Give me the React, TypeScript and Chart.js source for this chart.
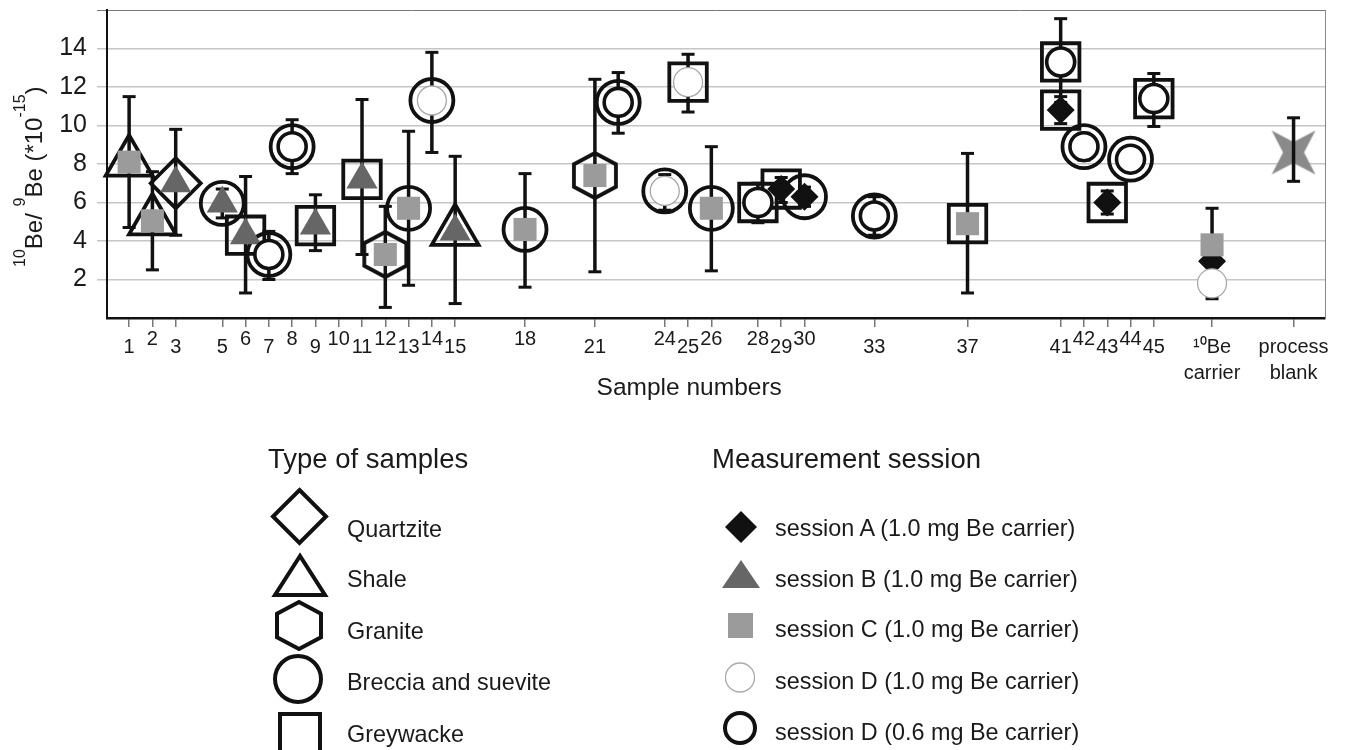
import React, { useEffect, useRef } from 'react';
import { Chart, registerables } from 'chart.js';

Chart.register(...registerables);

const FONT = "'Liberation Sans', Arial, Helvetica, sans-serif";
const INK = '#1a1a1a';

// ---------------- data ----------------
const X_TICKS = [1, 2, 3, 5, 6, 7, 8, 9, 10, 11, 12, 13, 14, 15, 18, 21, 24, 25, 26, 28, 29, 30, 33, 37, 41, 42, 43, 44, 45, 47.5, 51];
const X_TICK_LABELS: (string | string[])[] = [
  '1', '2', '3', '5', '6', '7', '8', '9', '10', '11', '12', '13', '14', '15', '18', '21',
  '24', '25', '26', '28', '29', '30', '33', '37', '41', '42', '43', '44', '45',
  ['\u00b9\u2070Be', 'carrier'], ['process', 'blank'],
];
const RAISED_TICKS = [2, 6, 8, 10, 12, 14, 18, 24, 26, 28, 30, 42, 44];
const Y_TICKS = [2, 4, 6, 8, 10, 12, 14];

const SAMPLE_X = [1, 2, 3, 5, 6, 7, 8, 9, 11, 12, 13, 14, 15, 18, 21, 22, 24, 25, 26, 28, 29, 30, 33, 37, 41, 41, 42, 43, 44, 45];
const SAMPLE_VALUE = [8.1, 5.05, 7.0, 5.95, 4.3, 3.3, 8.9, 4.8, 7.2, 3.3, 5.7, 11.3, 4.5, 4.6, 7.4, 11.2, 6.6, 12.25, 5.7, 6.0, 6.7, 6.3, 5.3, 4.9, 13.3, 10.8, 8.9, 6.0, 8.25, 11.4];
const SAMPLE_LOW = [4.7, 2.5, 4.3, 5.2, 1.3, 2.0, 7.5, 3.5, 3.3, 0.55, 1.7, 8.6, 0.75, 1.6, 2.4, 9.6, 5.6, 10.7, 2.45, 4.95, 6.0, 5.8, 4.3, 1.3, 11.2, 10.1, 8.2, 5.4, 7.6, 9.95];
const SAMPLE_HIGH = [11.5, 7.6, 9.8, 6.7, 7.35, 4.5, 10.3, 6.4, 11.35, 5.8, 9.7, 13.8, 8.4, 7.5, 12.4, 12.75, 7.45, 13.7, 8.9, 7.0, 7.3, 6.8, 6.3, 8.55, 15.55, 11.5, 9.6, 6.6, 8.9, 12.7];
const SAMPLE_TYPE = ['Shale', 'Shale', 'Quartzite', 'Breccia', 'Greywacke', 'Breccia', 'Breccia', 'Greywacke', 'Greywacke', 'Granite',
  'Breccia', 'Breccia', 'Shale', 'Breccia', 'Granite', 'Breccia', 'Breccia', 'Greywacke', 'Breccia', 'Greywacke',
  'Greywacke', 'Breccia', 'Breccia', 'Greywacke', 'Greywacke', 'Greywacke', 'Breccia', 'Greywacke', 'Breccia', 'Greywacke'];
const SAMPLE_SESSION = ['C', 'C', 'B', 'B', 'B', 'D06', 'D06', 'B', 'B', 'C',
  'C', 'D10', 'B', 'C', 'C', 'D06', 'D10', 'D10', 'C', 'D06',
  'A', 'A', 'D06', 'C', 'D06', 'A', 'D06', 'A', 'D06', 'D06'];

const CARRIER_X = 47.5;
const CARRIER_SESSION = ['C', 'A', 'D10'];
const CARRIER_VALUE = [3.8, 2.95, 1.8];
const CARRIER_LOW = 1.0;
const CARRIER_HIGH = 5.7;

const BLANK_X = 51;
const BLANK_VALUE = 8.6;
const BLANK_LOW = 7.1;
const BLANK_HIGH = 10.4;

const TYPE_LEGEND = ['Quartzite', 'Shale', 'Granite', 'Breccia and suevite', 'Greywacke'];
const SESSION_LEGEND = [
  'session A (1.0 mg Be carrier)',
  'session B (1.0 mg Be carrier)',
  'session C (1.0 mg Be carrier)',
  'session D (1.0 mg Be carrier)',
  'session D (0.6 mg Be carrier)',
];

// ---------------- helpers ----------------
function makeHexagon(W: number, H: number, lw: number, color: string) {
  const c = document.createElement('canvas');
  c.width = Math.ceil(2 * (W + lw + 2));
  c.height = Math.ceil(2 * (H + lw + 2));
  const ctx = c.getContext('2d')!;
  ctx.translate(c.width / 2, c.height / 2);
  ctx.beginPath();
  ctx.moveTo(0, -H);
  ctx.lineTo(W, -H / 2);
  ctx.lineTo(W, H / 2);
  ctx.lineTo(0, H);
  ctx.lineTo(-W, H / 2);
  ctx.lineTo(-W, -H / 2);
  ctx.closePath();
  ctx.lineWidth = lw;
  ctx.strokeStyle = color;
  ctx.stroke();
  return c;
}

function makeStar(R: number, r: number, color: string) {
  const c = document.createElement('canvas');
  c.width = c.height = Math.ceil(2 * R + 4);
  const ctx = c.getContext('2d')!;
  ctx.translate(c.width / 2, c.height / 2);
  ctx.beginPath();
  for (let i = 0; i < 8; i++) {
    const a = (i * Math.PI) / 4;
    const rad = i % 2 === 1 ? R : r;
    const px = rad * Math.cos(a);
    const py = rad * Math.sin(a);
    if (i === 0) ctx.moveTo(px, py);
    else ctx.lineTo(px, py);
  }
  ctx.closePath();
  ctx.fillStyle = color;
  ctx.fill();
  return c;
}

const Y_TITLE_PARTS: [string, boolean][] = [
  ['10', true], ['Be/ ', false], ['9', true], ['Be (*10', false], ['-15', true], [')', false],
];

const axisTitlePlugin = {
  id: 'axisTitles',
  afterDraw(chart: any) {
    const { ctx, chartArea } = chart;
    ctx.save();
    ctx.fillStyle = INK;
    ctx.textBaseline = 'alphabetic';
    ctx.textAlign = 'left';
    // y title (rotated, with superscripts)
    ctx.translate(chartArea.left - 65, chartArea.top + 257);
    ctx.rotate(-Math.PI / 2);
    let x = 0;
    for (const [text, sup] of Y_TITLE_PARTS) {
      ctx.font = `${sup ? 16 : 24}px ${FONT}`;
      ctx.fillText(text, x, sup ? -17 : 0);
      x += ctx.measureText(text).width;
    }
    ctx.restore();
    // x title
    ctx.save();
    ctx.fillStyle = INK;
    ctx.font = `24.5px ${FONT}`;
    ctx.textAlign = 'center';
    ctx.textBaseline = 'alphabetic';
    const cx = chartArea.left + (chartArea.right - chartArea.left) * 0.478;
    ctx.fillText('Sample numbers', cx, chartArea.bottom + 77);
    ctx.restore();
  },
};

function buildConfig(): any {
  const idx = SAMPLE_X.map((_, i) => i);
  const pt = (i: number) => ({ x: SAMPLE_X[i], y: SAMPLE_VALUE[i] });
  const sessionPts = (s: string) => [
    ...idx.filter((i) => SAMPLE_SESSION[i] === s).map(pt),
    ...CARRIER_SESSION.map((cs, k) => ({ cs, k })).filter((o) => o.cs === s).map((o) => ({ x: CARRIER_X, y: CARRIER_VALUE[o.k] })),
  ];
  const typePts = (t: string) => idx.filter((i) => SAMPLE_TYPE[i] === t).map(pt);

  const errX = [...SAMPLE_X, CARRIER_X, BLANK_X];
  const errLo = [...SAMPLE_LOW, CARRIER_LOW, BLANK_LOW];
  const errHi = [...SAMPLE_HIGH, CARRIER_HIGH, BLANK_HIGH];
  const errLine: any[] = [];
  const caps: any[] = [];
  errX.forEach((x, i) => {
    errLine.push({ x, y: errLo[i] }, { x, y: errHi[i] }, { x, y: null });
    caps.push({ x, y: errLo[i] }, { x, y: errHi[i] });
  });

  const hex = makeHexagon(21, 22.5, 3.8, '#111');
  const star = makeStar(31, 10.5, '#8a8a8a');

  const outline = (label: string, data: any[], pointStyle: any, radius: number) => ({
    label, data, pointStyle, pointRadius: radius,
    backgroundColor: 'rgba(0,0,0,0)', borderColor: '#111', pointBorderWidth: 3.8,
    order: 6, clip: false,
  });

  const datasets: any[] = [
    { label: 'session D (0.6 mg)', data: sessionPts('D06'), pointStyle: 'circle', pointRadius: 14,
      backgroundColor: '#ffffff', borderColor: '#111', pointBorderWidth: 3.6, order: 0, clip: false },
    { label: 'session D (1.0 mg)', data: sessionPts('D10'), pointStyle: 'circle', pointRadius: 14.5,
      backgroundColor: '#ffffff', borderColor: '#a8a8a8', pointBorderWidth: 1.3, order: 0, clip: false },
    { label: 'session C', data: sessionPts('C'), pointStyle: 'rect', pointRadius: 16.3,
      backgroundColor: '#9b9b9b', borderColor: '#9b9b9b', pointBorderWidth: 0, order: 1, clip: false },
    { label: 'session A', data: sessionPts('A'), pointStyle: 'rectRot', pointRadius: 14,
      backgroundColor: '#111', borderColor: '#111', pointBorderWidth: 0, order: 2, clip: false },
    { label: 'session B', data: sessionPts('B'), pointStyle: 'triangle', pointRadius: 18,
      backgroundColor: '#666', borderColor: '#666', pointBorderWidth: 0, order: 3, clip: false },
    { label: 'caps', data: caps, pointStyle: 'line', pointRadius: 6.5,
      borderColor: '#111', pointBorderWidth: 3, order: 4, clip: false },
    { type: 'line', label: 'error', data: errLine, showLine: true, spanGaps: false, pointRadius: 0,
      borderColor: '#111', borderWidth: 3.5, borderCapStyle: 'butt', fill: false, tension: 0, order: 5, clip: false },
    outline('Quartzite', typePts('Quartzite'), 'rectRot', 25),
    outline('Shale', typePts('Shale'), 'triangle', 27),
    outline('Granite', typePts('Granite'), hex, 22),
    outline('Breccia and suevite', typePts('Breccia'), 'circle', 21.5),
    outline('Greywacke', typePts('Greywacke'), 'rect', 26.5),
    { label: 'process blank', data: [{ x: BLANK_X, y: BLANK_VALUE }], pointStyle: star, pointRadius: 20,
      backgroundColor: '#8a8a8a', borderColor: '#8a8a8a', order: 7, clip: false },
  ];

  return {
    type: 'scatter',
    data: { datasets },
    plugins: [axisTitlePlugin],
    options: {
      responsive: false,
      animation: false,
      events: [],
      devicePixelRatio: 1,
      layout: { autoPadding: false, padding: { top: 10, bottom: 19, left: 0, right: 0 } },
      plugins: { legend: { display: false }, tooltip: { enabled: false }, title: { display: false } },
      scales: {
        x: {
          type: 'linear', min: 0.05, max: 52.35, offset: false,
          afterBuildTicks: (s: any) => { s.ticks = X_TICKS.map((v) => ({ value: v })); },
          afterFit: (s: any) => { s.height = 83; s.paddingLeft = 0; s.paddingRight = 0; },
          grid: { display: true, drawOnChartArea: false, drawTicks: true, tickLength: 9, color: '#777', lineWidth: 1.5, offset: false },
          border: { display: true, color: '#111', width: 2.5 },
          ticks: {
            autoSkip: false, maxRotation: 0, minRotation: 0, padding: 7, color: INK,
            callback: (_v: any, i: number) => X_TICK_LABELS[i],
            font: (c: any) => ({
              family: FONT, size: 20,
              lineHeight: c.tick && RAISED_TICKS.includes(c.tick.value) ? '10px' : '26px',
            }),
          },
          title: { display: false },
        },
        y: {
          type: 'linear', min: 0, max: 16, position: 'left',
          afterFit: (s: any) => { s.width = 107; s.paddingTop = 0; s.paddingBottom = 0; },
          grid: {
            drawTicks: true, tickLength: 10,
            color: (c: any) => (c.tick && c.tick.value === 16 ? '#777' : c.tick && c.tick.value === 0 ? 'rgba(0,0,0,0)' : '#c6c6c6'),
            lineWidth: (c: any) => (c.tick && c.tick.value === 16 ? 1 : 1.5),
          },
          border: { display: true, color: '#111', width: 2 },
          ticks: {
            stepSize: 2, padding: 10, color: INK,
            font: { family: FONT, size: 25 },
            callback: (v: any) => (Y_TICKS.includes(v) ? String(v) : ''),
          },
        },
        y2: {
          type: 'linear', min: 0, max: 16, position: 'right',
          afterFit: (s: any) => { s.width = 25; s.paddingTop = 0; s.paddingBottom = 0; },
          grid: { display: false, drawTicks: false },
          ticks: { display: false },
          border: { display: true, color: '#888', width: 1 },
        },
      },
    },
  };
}

export default function App() {
  const ref = useRef<HTMLCanvasElement>(null);
  useEffect(() => {
    if (!ref.current) return;
    const chart = new Chart(ref.current, buildConfig());
    return () => chart.destroy();
  }, []);

  const leftBase = [537, 587, 639, 690, 742];
  const rightBase = [536, 587, 637, 689, 740];

  return (
    <div style={{ position: 'absolute', left: 0, top: 0, width: 1350, height: 750, background: '#fff', overflow: 'hidden' }}>
      <canvas ref={ref} width={1350} height={420} style={{ position: 'absolute', left: 0, top: 0 }} />
      <svg width={1350} height={750} style={{ position: 'absolute', left: 0, top: 0, pointerEvents: 'none' }}>
        <g fontFamily={FONT} fill={INK}>
          <text x={268} y={468} fontSize={27.5}>Type of samples</text>
          <text x={712} y={468} fontSize={27.5}>Measurement session</text>
          {TYPE_LEGEND.map((t, i) => (
            <text key={t} x={347} y={leftBase[i]} fontSize={23.4}>{t}</text>
          ))}
          {SESSION_LEGEND.map((t, i) => (
            <text key={t} x={775} y={rightBase[i]} fontSize={23.4}>{t}</text>
          ))}
        </g>
        {/* type symbols */}
        <g fill="none" stroke="#111" strokeWidth={4}>
          <polygon points="299.5,490 326,516.5 299.5,543 273,516.5" />
          <polygon points="300,556 275,595 325,595" />
          <polygon points="299,602 321,613.75 321,637.25 299,649 277,637.25 277,613.75" />
          <circle cx={298} cy={679} r={23} />
          <rect x={280} y={714} width={40} height={40} />
        </g>
        {/* session symbols */}
        <polygon points="741,511 757,527 741,543 725,527" fill="#111" />
        <polygon points="741,560 722,588 760,588" fill="#666" />
        <rect x={728} y={613} width={25} height={25} fill="#9b9b9b" />
        <circle cx={740} cy={677.5} r={14.5} fill="#fff" stroke="#aaa" strokeWidth={1.3} />
        <circle cx={740} cy={728} r={15} fill="none" stroke="#111" strokeWidth={4} />
      </svg>
    </div>
  );
}
